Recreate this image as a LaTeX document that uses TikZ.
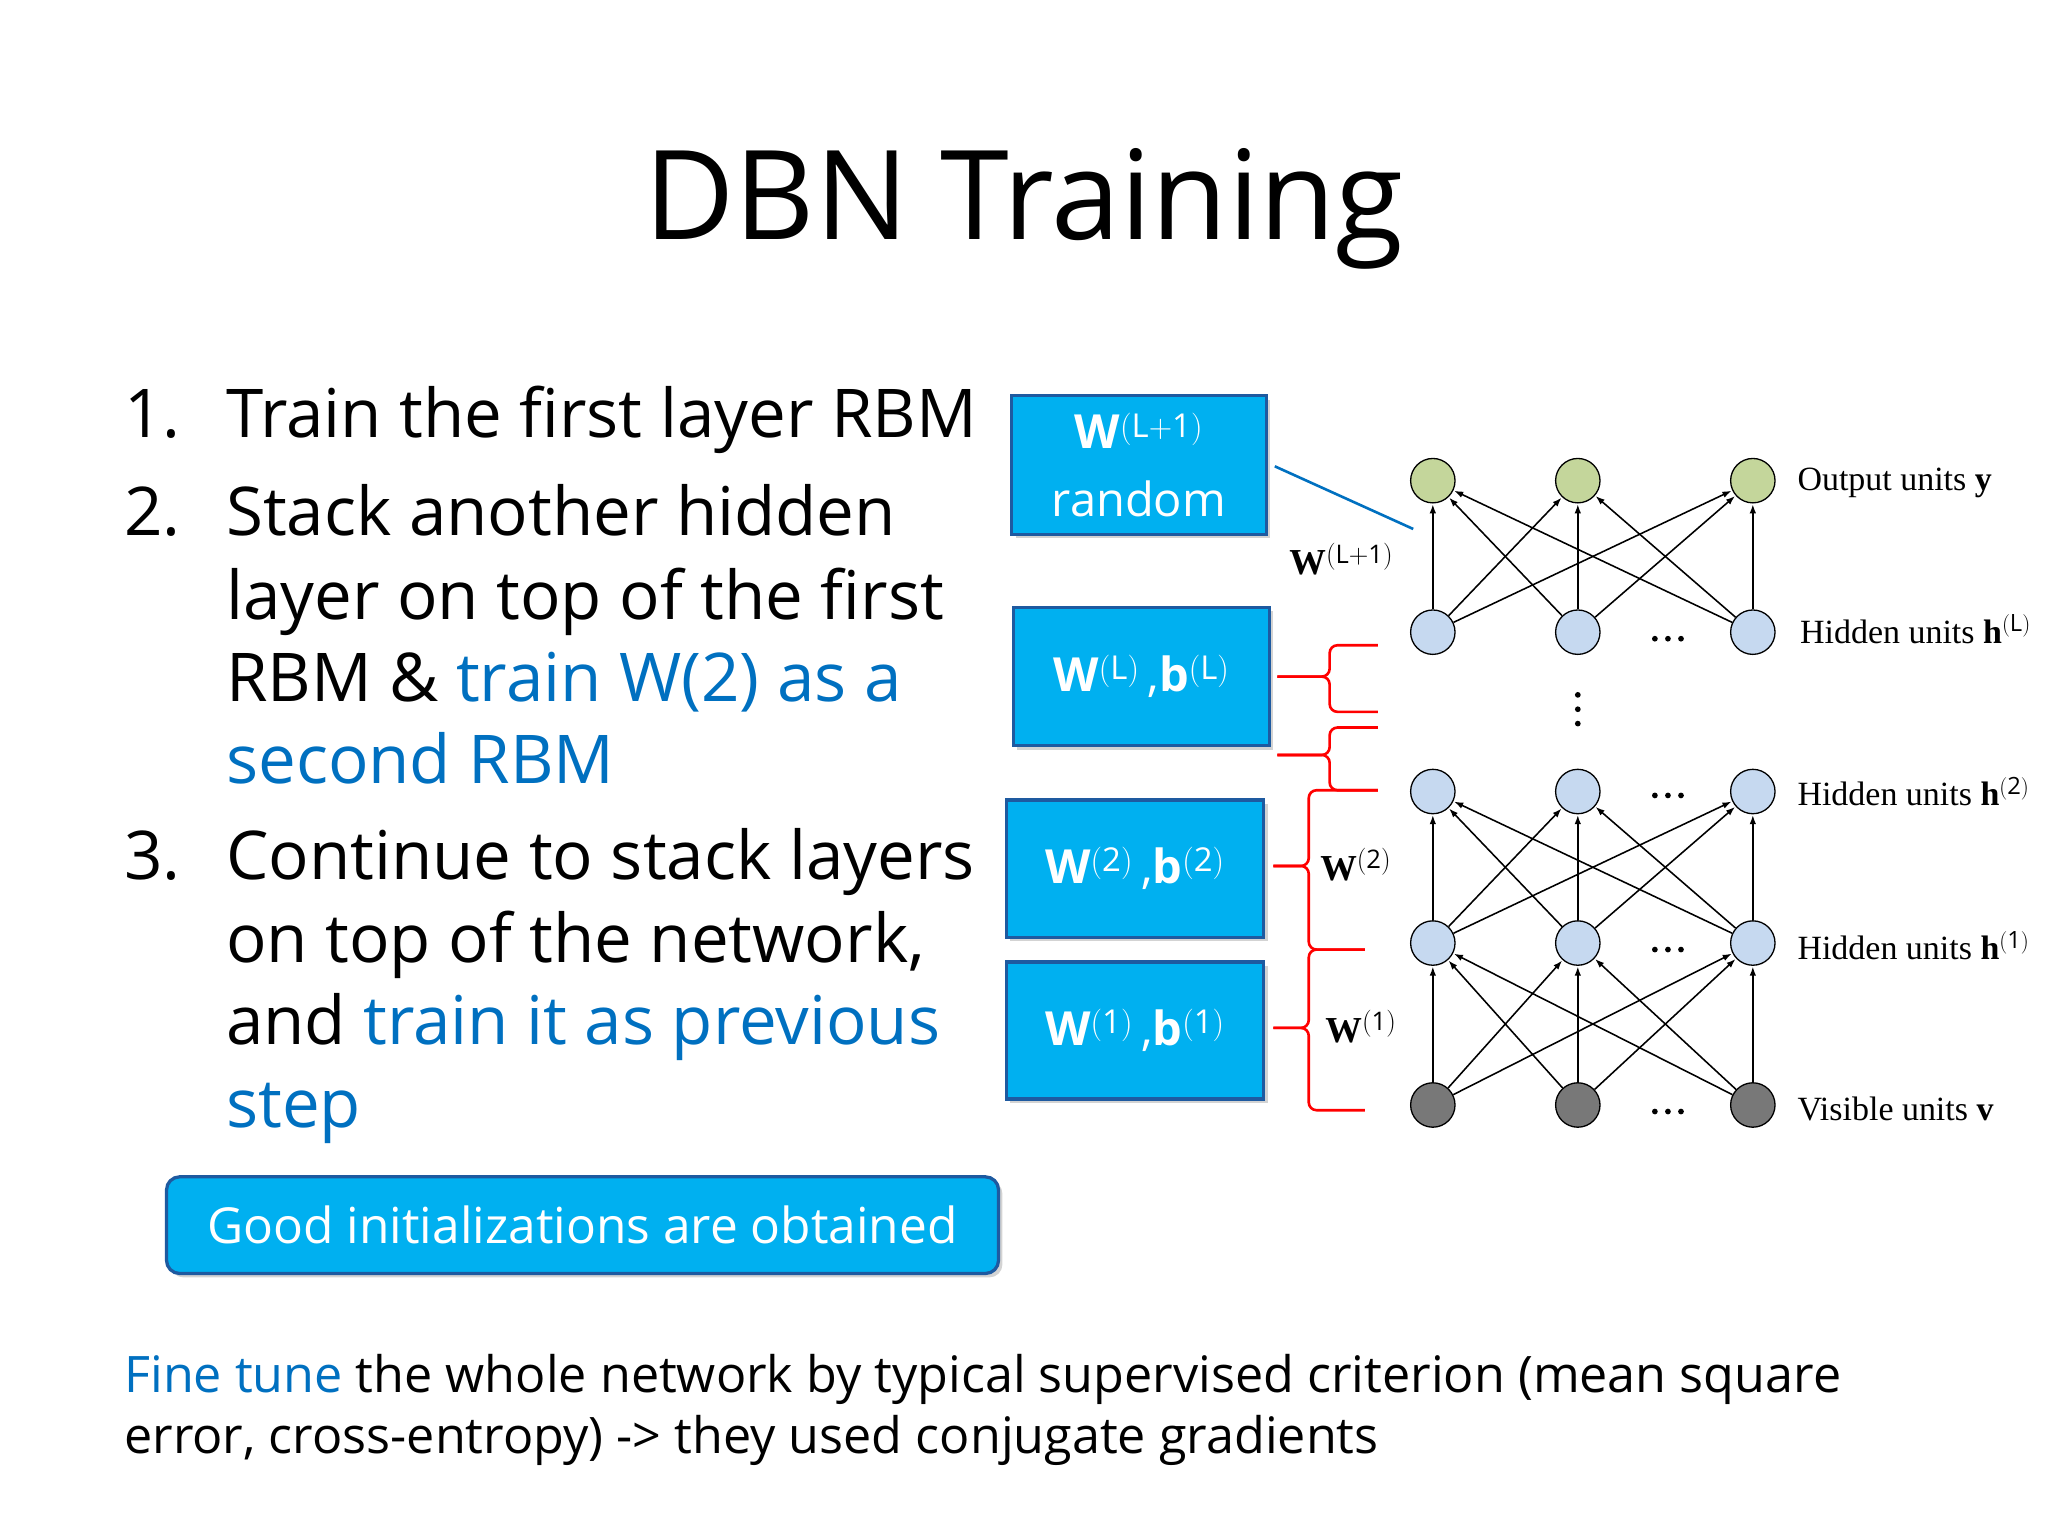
\documentclass[tikz,border=0pt]{standalone}
\usepackage{fontspec}
\setmainfont{Open Sans}
\newfontfamily\tms{Liberation Serif}
\usetikzlibrary{arrows.meta,shadows}
\definecolor{bx}{RGB}{0,176,240}
\definecolor{bxd}{RGB}{30,90,160}
\definecolor{tb}{RGB}{0,112,192}
\definecolor{grn}{RGB}{196,214,155}
\definecolor{lb}{RGB}{198,217,240}
\definecolor{gry}{RGB}{120,120,120}
\begin{document}
\begin{tikzpicture}[x=1pt,y=-1pt,
  txt/.style={anchor=base west,inner sep=0,font=\fontsize{51.5}{60}\selectfont},
  box/.style={draw=bxd,line width=2.5pt,fill=bx,text=white,align=center,drop shadow={opacity=0.35,shadow xshift=3pt,shadow yshift=-3pt},font=\fontsize{36}{52}\selectfont},
  unit/.style={circle,draw=black,line width=1pt,minimum size=34pt,inner sep=0},
  con/.style={-{Latex[length=7pt,width=5pt]},line width=1.2pt,shorten >=0.5pt},
  lab/.style={anchor=west,inner sep=0,font=\tms\fontsize{26}{28}\selectfont},
  wl/.style={inner sep=0,font=\tms\fontsize{28}{30}\selectfont},
  brace/.style={draw=red,line width=2pt,rounded corners=6pt}]
\useasboundingbox (0,0) rectangle (1568,1176);
\node[anchor=base,inner sep=0,font=\fontsize{95}{110}\selectfont] (title) at (784,183) {DBN Training};
% list
\node[txt] (n1) at (95,335) {1.};
\node[txt] (l1) at (173,335) {Train the first layer RBM};
\node[txt] (n2) at (95,410) {2.};
\node[txt] (l2) at (173,410) {Stack another hidden};
\node[txt] (l3) at (173,474) {layer on top of the first};
\node[txt] (l4) at (173,537) {RBM \& \textcolor{tb}{train W(2) as a}};
\node[txt,text=tb] (l5) at (173,600) {second RBM};
\node[txt] (n3) at (95,673) {3.};
\node[txt] (l6) at (173,673) {Continue to stack layers};
\node[txt] (l7) at (173,737) {on top of the network,};
\node[txt] (l8) at (173,800) {and \textcolor{tb}{train it as previous}};
\node[txt,text=tb] (l9) at (173,863) {step};
\node[box,rounded corners=10pt,minimum width=637pt,minimum height=74pt,font=\fontsize{38}{44}\selectfont] (good) at (446,938) {Good initializations are obtained};
\node[anchor=base west,inner sep=0,font=\fontsize{38.5}{44}\selectfont] (f1) at (95,1066) {\textcolor{tb}{Fine tune} the whole network by typical supervised criterion (mean square};
\node[anchor=base west,inner sep=0,font=\fontsize{38.5}{44}\selectfont] (f2) at (95,1113) {error, cross-entropy) -> they used conjugate gradients};
% boxes
\node[box,minimum width=195pt,minimum height=106pt] (bx1) at (872,356) {\textbf{W}$^{\mathrm{(L+1)}}$\\random};
\node[box,minimum width=196pt,minimum height=106pt] (bx2) at (874,518) {\textbf{W}$^{\mathrm{(L)}}$\,,\textbf{b}$^{\mathrm{(L)}}$};
\node[box,minimum width=197pt,minimum height=105pt] (bx3) at (869,665) {\textbf{W}$^{\mathrm{(2)}}$\,,\textbf{b}$^{\mathrm{(2)}}$};
\node[box,minimum width=197pt,minimum height=105pt] (bx4) at (869,789) {\textbf{W}$^{\mathrm{(1)}}$\,,\textbf{b}$^{\mathrm{(1)}}$};
% units
\foreach \r/\y/\c in {o/368/grn,L/484/lb,p/606/lb,a/722/lb,v/846/gry}{
  \node[unit,fill=\c] (\r1) at (1097,\y) {};
  \node[unit,fill=\c] (\r2) at (1208,\y) {};
  \node[unit,fill=\c] (\r3) at (1342,\y) {};
}
\foreach \lo/\hi in {L/o,a/p,v/a}{
  \foreach \i in {1,2,3}{\foreach \j in {1,2,3}{
    \draw[con] (\lo\i) -- (\hi\j);
  }}
}
\foreach \y in {489,609,727,851}{
  \foreach \dx in {-10,0,10}{\fill (1277+\dx,\y) circle (2.2pt);}
}
\foreach \dy in {-11,0,11}{\fill (1208,543+\dy) circle (2.2pt);}
\node[lab] (ty) at (1376,370) {Output units \textbf{y}};
\node[lab] (tL) at (1378,482) {Hidden units \textbf{h}$^{\mathrm{(L)}}$};
\node[lab] (t2) at (1376,606) {Hidden units \textbf{h}$^{\mathrm{(2)}}$};
\node[lab] (t1) at (1376,724) {Hidden units \textbf{h}$^{\mathrm{(1)}}$};
\node[lab] (tv) at (1376,849) {Visible units \textbf{v}};
% W labels
\node[wl] (wL1) at (1027,428) {\textbf{W}$^{\mathrm{(L+1)}}$};
\node[wl] (w2) at (1038,662) {\textbf{W}$^{\mathrm{(2)}}$};
\node[wl] (w1) at (1042,786) {\textbf{W}$^{\mathrm{(1)}}$};
\coordinate (lineend) at (1082,405);
\coordinate (linestart) at (976,357);
\draw[tb,line width=2pt] (linestart) -- (lineend);
% braces
\draw[brace] (1055,494) -- (1018,494) -- (1018,518) -- (978,518);
\draw[brace] (978,518) -- (1018,518) -- (1018,545) -- (1055,545);
\draw[brace] (1055,557) -- (1018,557) -- (1018,578) -- (978,578);
\draw[brace] (978,578) -- (1018,578) -- (1018,605) -- (1055,605);
\draw[brace] (1055,605) -- (1002,605) -- (1002,663) -- (975,663);
\draw[brace] (975,663) -- (1002,663) -- (1002,727) -- (1045,727);
\draw[brace] (1045,727) -- (1002,727) -- (1002,787) -- (975,787);
\draw[brace] (975,787) -- (1002,787) -- (1002,850) -- (1045,850);
\end{tikzpicture}
\end{document}
